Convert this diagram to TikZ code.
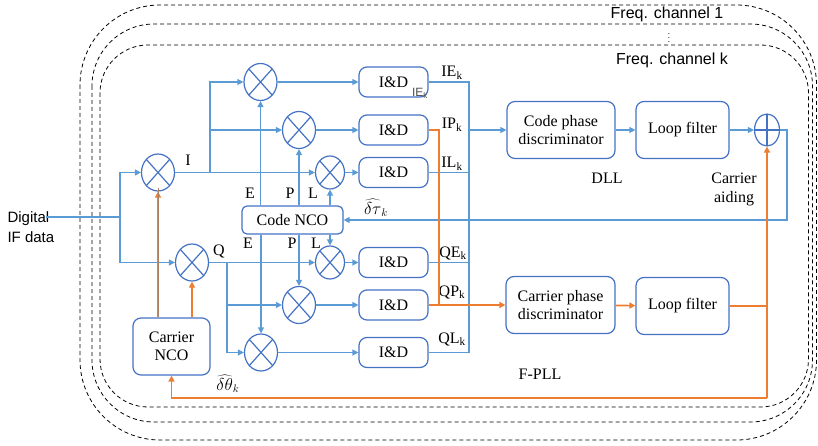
\documentclass[tikz,border=0pt]{standalone}
\usepackage{fontspec}
\setmainfont{Liberation Serif}
\setsansfont{Liberation Sans}
\usetikzlibrary{shapes.geometric,arrows.meta}
\definecolor{lblue}{HTML}{5B9BD5}
\definecolor{dblue}{HTML}{4472C4}
\definecolor{orng}{HTML}{ED7D31}
\begin{document}
\begin{tikzpicture}[x=1pt,y=-1pt,
  font=\fontsize{16}{18}\selectfont,
  blk/.style={draw=dblue,line width=1.2pt,rounded corners=8pt,align=center,inner sep=1pt},
  idbox/.style={blk,minimum width=69pt,minimum height=30pt},
  bigbox/.style={blk,minimum height=57pt},
  mix/.style={draw=dblue,line width=1.2pt,ellipse,minimum width=33pt,minimum height=37pt,inner sep=0pt,
    path picture={\draw[dblue,line width=1.2pt] (path picture bounding box.north west) -- (path picture bounding box.south east)
      (path picture bounding box.north east) -- (path picture bounding box.south west);}},
  smix/.style={mix,minimum width=29pt,minimum height=33pt},
  sumc/.style={draw=dblue,line width=1.2pt,ellipse,minimum width=25pt,minimum height=32pt,inner sep=0pt,
    path picture={\draw[dblue,line width=1.2pt] (path picture bounding box.north) -- (path picture bounding box.south)
      (path picture bounding box.east) -- (path picture bounding box.west);}},
  sig/.style={lblue,line width=1.3pt,-{Triangle[length=6pt,width=6pt]}},
  org/.style={orng,line width=1.6pt,-{Triangle[length=6pt,width=6pt]}},
  chan/.style={dash pattern=on 4pt off 3pt,line width=0.8pt},
  sans/.style={font=\sffamily\fontsize{16}{18}\selectfont}]
\useasboundingbox (0,0) rectangle (818,446);

% frequency channels
\draw[chan,rounded corners=80pt] (80,5) rectangle (816.5,440);
\draw[chan,rounded corners=62pt] (92,24) rectangle (812.5,422);
\draw[chan,rounded corners=48pt] (100,45) rectangle (808.5,407);
\node[sans] (ch1) at (667,14) {Freq. channel 1};
\node[font=\fontsize{9}{9}\selectfont,inner sep=0pt] (dots) at (669,35) {$\vdots$};
\node[sans] (chk) at (672,60) {Freq. channel k};

% input
\node[font=\sffamily\fontsize{15}{20}\selectfont,align=left,anchor=west] (ifd) at (4,227) {Digital\\IF data};
\coordinate (in) at (46,217);
\coordinate (sp) at (120,217);

% mixers
\node[mix] (mi) at (158,172.5) {};
\node[mix] (mq) at (192,262.5) {};
\node[mix] (me) at (260.5,82) {};
\node[mix] (mp) at (299,130) {};
\node[smix] (ml) at (330,172.5) {};
\node[smix] (mql) at (330,262.5) {};
\node[mix] (mqp) at (299,305) {};
\node[mix] (mqe) at (261,352.5) {};

% integrate and dump
\node[idbox] (d1) at (393.5,82) {I\&D};
\node[idbox] (d2) at (393.5,130) {I\&D};
\node[idbox] (d3) at (393.5,172.5) {I\&D};
\node[idbox] (d4) at (393.5,262.5) {I\&D};
\node[idbox] (d5) at (393.5,305) {I\&D};
\node[idbox] (d6) at (393.5,352.5) {I\&D};
\node[font=\sffamily\fontsize{12}{12}\selectfont,text=black!70] (ie) at (420,93) {IE\textsubscript{k}};

% NCOs
\node[blk,rounded corners=5pt,minimum width=101pt,minimum height=28pt] (nco) at (292.5,220) {Code NCO};
\node[bigbox,minimum width=77pt] (cnco) at (171.5,346.5) {Carrier\\NCO};

% loops
\node[bigbox,minimum width=108pt] (cd) at (561,130) {Code phase\\discriminator};
\node[bigbox,minimum width=93pt] (lf1) at (682.5,130) {Loop filter};
\node[sumc] (sum) at (767,130) {};
\node[bigbox,minimum width=109pt] (pd) at (560.5,305) {Carrier phase\\discriminator};
\node[bigbox,minimum width=93pt] (lf2) at (682.5,306) {Loop filter};

% labels
\node (li) at (188,160) {I};
\node (lq) at (219,251) {Q};
\node (le1) at (250,193) {E};
\node (lp1) at (290,193) {P};
\node (ll1) at (313,193) {L};
\node (le2) at (248,243) {E};
\node (lp2) at (292,243) {P};
\node (ll2) at (316,243) {L};
\node (ie1) at (452,73) {IE\textsubscript{k}};
\node (ip1) at (452,125) {IP\textsubscript{k}};
\node (il1) at (452,164) {IL\textsubscript{k}};
\node (qe1) at (453,253) {QE\textsubscript{k}};
\node (qp1) at (452,292) {QP\textsubscript{k}};
\node (ql1) at (452,339) {QL\textsubscript{k}};
\node[inner sep=0pt] (dtau) at (376,208) {$\widehat{\delta\tau}_k$};
\node[inner sep=0pt] (dth) at (228,384) {$\widehat{\delta\theta}_k$};
\node (dll) at (607,178) {DLL};
\node (fpll) at (540,374) {F-PLL};
\node[align=center,font=\fontsize{16}{19}\selectfont] (aid) at (734,189) {Carrier\\aiding};

% coordinates of junctions
\coordinate (isp) at (210,172.5);
\coordinate (qsp) at (227,262.5);
\coordinate (bt) at (469,82);
\coordinate (bb) at (469,352.5);
\coordinate (ob) at (439,305);
\coordinate (sr) at (787,130);
\coordinate (fb) at (767,398);

% blue signal paths
\path[draw,sig,-] (in) -- (sp);
\path[draw,sig] (sp) |- (mi);
\path[draw,sig] (sp) |- (mq);
\path[draw,sig] (mi) -- (ml);
\path[draw,sig] (isp) |- (me);
\path[draw,sig] (isp) |- (mp);
\path[draw,sig] (mq) -- (mql);
\path[draw,sig] (qsp) |- (mqp);
\path[draw,sig] (qsp) |- (mqe);
\path[draw,sig] (me) -- (d1);
\path[draw,sig] (mp) -- (d2);
\path[draw,sig] (ml) -- (d3);
\path[draw,sig] (mql) -- (d4);
\path[draw,sig] (mqp) -- (d5);
\path[draw,sig] (mqe) -- (d6);
\path[draw,sig] (me |- nco.north) -- (me);
\path[draw,sig] (mp |- nco.north) -- (mp);
\path[draw,sig] (ml |- nco.north) -- (ml);
\path[draw,sig] (mqe |- nco.south) -- (mqe);
\path[draw,sig] (mqp |- nco.south) -- (mqp);
\path[draw,sig] (mql |- nco.south) -- (mql);
\path[draw,sig,-] (d1.east) -- (bt) -- (bb) -- (d6.east);
\path[draw,sig,-] (d3.east) -- (d3.east -| bt);
\path[draw,sig,-] (d4.east) -- (d4.east -| bt);
\path[draw,sig] (bt |- cd) -- (cd);
\path[draw,sig] (cd) -- (lf1);
\path[draw,sig] (lf1) -- (sum);
\path[draw,sig] (sum) -- (sr) |- (nco);

% orange carrier paths
\path[draw,org,line width=2pt] (cnco.north -| mi) -- (mi);
\path[draw,orng!60!black!70,line width=0.4pt] (cnco.north -| mi) -- ([yshift=4pt]mi.south);
\path[draw,org] (cnco.north -| mq) -- (mq);
\path[draw,org,-] (d2.east) -| (ob);
\path[draw,org] (d5) -- (pd);
\path[draw,org] (pd) -- (lf2);
\path[draw,org] (lf2) -| (sum);
\path[draw,org,-] (sum |- lf2) -- (fb);
\path[draw,org] (fb) -| (cnco);
\end{tikzpicture}
\end{document}
